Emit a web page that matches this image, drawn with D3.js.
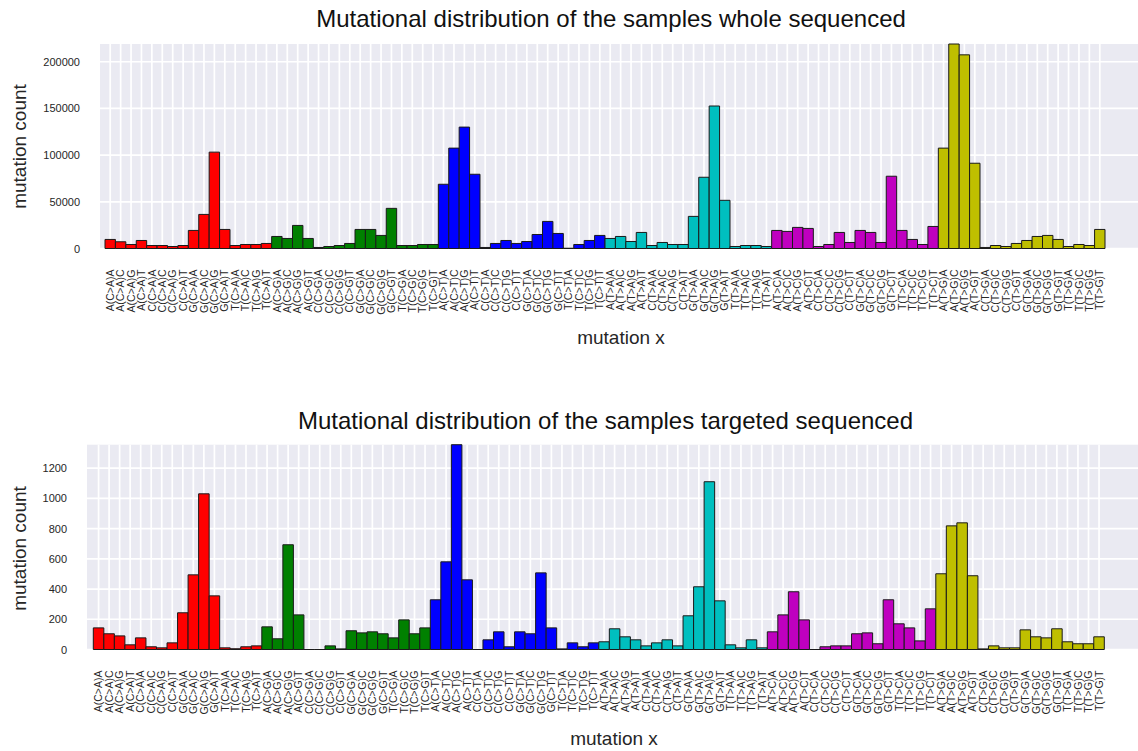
<!DOCTYPE html>
<html>
<head>
<meta charset="utf-8">
<script src="https://cdn.jsdelivr.net/npm/d3@7"></script>
<style>
  html, body { margin: 0; padding: 0; background: #ffffff; }
  svg { display: block; font-family: "Liberation Sans", Arial, Helvetica, sans-serif; }
</style>
</head>
<body>
<svg id="chart" width="1138" height="751"></svg>
<script>
// Substitution classes and flanking bases that make up the 96 trinucleotide contexts
const substitutions = ["C>A", "C>G", "C>T", "T>A", "T>C", "T>G"];
const flankBases = ["A", "C", "G", "T"];
const categories = substitutions.flatMap(s =>
  flankBases.flatMap(l => flankBases.map(r => `${l}(${s})${r}`)));

// One colour per substitution class
const groupColors = ["#ff0000", "#008000", "#0000ff", "#00bfbf", "#bf00bf", "#bfbf00"];

// Mutation counts, whole-genome sequenced samples
const wholeCounts = [
  9700, 7200, 4300, 8600, 3200, 3200, 2150, 3200, 19350, 36500, 103200, 20400, 3200, 4300, 4300, 5400,
  12900, 10750, 24700, 10750, 1100, 2150, 3200, 5400, 20400, 20400, 14000, 43000, 3200, 3200, 4300, 4300,
  68800, 107500, 130000, 79500, 1100, 5400, 8600, 5400, 7500, 15000, 29000, 16100, 300, 4300, 8600, 14000,
  10750, 12900, 7500, 17200, 3200, 6450, 4300, 4300, 34400, 76300, 152600, 51600, 2150, 3200, 3200, 2150,
  19350, 18300, 22600, 21500, 2150, 4300, 17200, 6450, 19350, 17200, 6450, 77400, 19350, 9700, 4300, 23600,
  107500, 219000, 207400, 91300, 1100, 3200, 2150, 5400, 8600, 12900, 14000, 9700, 2150, 4300, 3200, 20400
];

// Mutation counts, targeted sequenced samples
const targetedCounts = [
  143, 104, 90, 31, 77, 18, 11, 44, 243, 494, 1030, 355, 11, 5, 18, 24,
  150, 71, 693, 229, 0, 0, 24, 4, 124, 110, 117, 104, 77, 196, 104, 143,
  329, 580, 1355, 461, 0, 64, 117, 18, 117, 104, 507, 143, 4, 44, 18, 44,
  51, 137, 84, 64, 24, 44, 64, 24, 223, 415, 1110, 322, 31, 11, 64, 11,
  117, 229, 382, 196, 0, 18, 24, 24, 104, 110, 38, 329, 170, 143, 57, 269,
  501, 818, 838, 488, 4, 24, 11, 11, 130, 84, 77, 137, 51, 38, 38, 84
];

// Y tick values of each panel
const wholeTicks = [0, 50000, 100000, 150000, 200000];
const targetedTicks = [0, 200, 400, 600, 800, 1000, 1200];

// Panel titles and axis labels
const titles = [
  "Mutational distribution of the samples whole sequenced",
  "Mutational distribution of the samples targeted sequenced"
];
const xAxisLabel = "mutation x";
const yAxisLabel = "mutation count";

// Panel geometry
const panels = [
  { counts: wholeCounts, ticks: wholeTicks, title: titles[0],
    left: 100, right: 1138, top: 44, bottom: 248.5, barStart: 105, barEnd: 1105,
    titleX: 611, titleY: 27, xLabelX: 621, xLabelY: 344, yLabelY: 146.5 },
  { counts: targetedCounts, ticks: targetedTicks, title: titles[1],
    left: 87, right: 1138, top: 444.7, bottom: 649.5, barStart: 93.3, barEnd: 1104.3,
    titleX: 605.5, titleY: 429, xLabelX: 614, xLabelY: 745, yLabelY: 548.5 }
];

const svg = d3.select("#chart");
const textColor = "#262626";

function drawPanel(p) {
  const g = svg.append("g");

  const x = d3.scaleBand().domain(categories).range([p.barStart, p.barEnd]).padding(0);
  const y = d3.scaleLinear().domain([0, d3.max(p.counts)]).range([p.bottom, p.top]);

  // plot background
  g.append("rect")
    .attr("x", p.left).attr("y", p.top)
    .attr("width", p.right - p.left).attr("height", p.bottom - p.top)
    .attr("fill", "#eaeaf2");

  // horizontal grid
  g.append("g").selectAll("line").data(p.ticks).join("line")
    .attr("x1", p.left).attr("x2", p.right)
    .attr("y1", d => y(d)).attr("y2", d => y(d))
    .attr("stroke", "#ffffff").attr("stroke-width", 1.7);

  // vertical grid at each category
  g.append("g").selectAll("line").data(categories).join("line")
    .attr("x1", d => x(d) + x.bandwidth() / 2).attr("x2", d => x(d) + x.bandwidth() / 2)
    .attr("y1", p.top).attr("y2", p.bottom)
    .attr("stroke", "#ffffff").attr("stroke-width", 1.7);

  // bars (paths so that zero-count bars still show their edge)
  g.append("g").selectAll("path").data(p.counts).join("path")
    .attr("d", (d, i) => {
      const x0 = x(categories[i]), x1 = x0 + x.bandwidth();
      return `M${x0},${y(0)}V${y(d)}H${x1}V${y(0)}Z`;
    })
    .attr("fill", (d, i) => groupColors[Math.floor(i / 16)])
    .attr("stroke", "#1a1a1a").attr("stroke-width", 1);

  // y axis
  const yAxis = g.append("g")
    .attr("transform", `translate(${p.left},0)`)
    .call(d3.axisLeft(y).tickValues(p.ticks).tickSize(0).tickPadding(20).tickFormat(d3.format("d")));
  yAxis.select(".domain").remove();
  yAxis.selectAll("text")
    .attr("fill", textColor).attr("font-size", 11)
    .attr("font-family", "'Liberation Sans', Arial, sans-serif");

  // x axis with vertical category labels
  const xAxis = g.append("g")
    .attr("transform", `translate(0,${p.bottom})`)
    .call(d3.axisBottom(x).tickSize(0));
  xAxis.select(".domain").remove();
  xAxis.selectAll("text")
    .attr("transform", "rotate(-90)")
    .attr("x", -21).attr("y", 0).attr("dy", "0.35em")
    .attr("text-anchor", "end")
    .attr("fill", textColor).attr("font-size", 10.5)
    .attr("font-family", "'Liberation Sans', Arial, sans-serif");

  // title
  g.append("text")
    .attr("x", p.titleX).attr("y", p.titleY)
    .attr("text-anchor", "middle")
    .attr("font-size", 24).attr("fill", "#111")
    .text(p.title);

  // axis labels
  g.append("text")
    .attr("x", p.xLabelX).attr("y", p.xLabelY)
    .attr("text-anchor", "middle")
    .attr("font-size", 19).attr("fill", textColor)
    .text(xAxisLabel);

  g.append("text")
    .attr("transform", `translate(26,${p.yLabelY}) rotate(-90)`)
    .attr("text-anchor", "middle")
    .attr("font-size", 19).attr("fill", textColor)
    .text(yAxisLabel);
}

panels.forEach(drawPanel);
</script>
</body>
</html>
